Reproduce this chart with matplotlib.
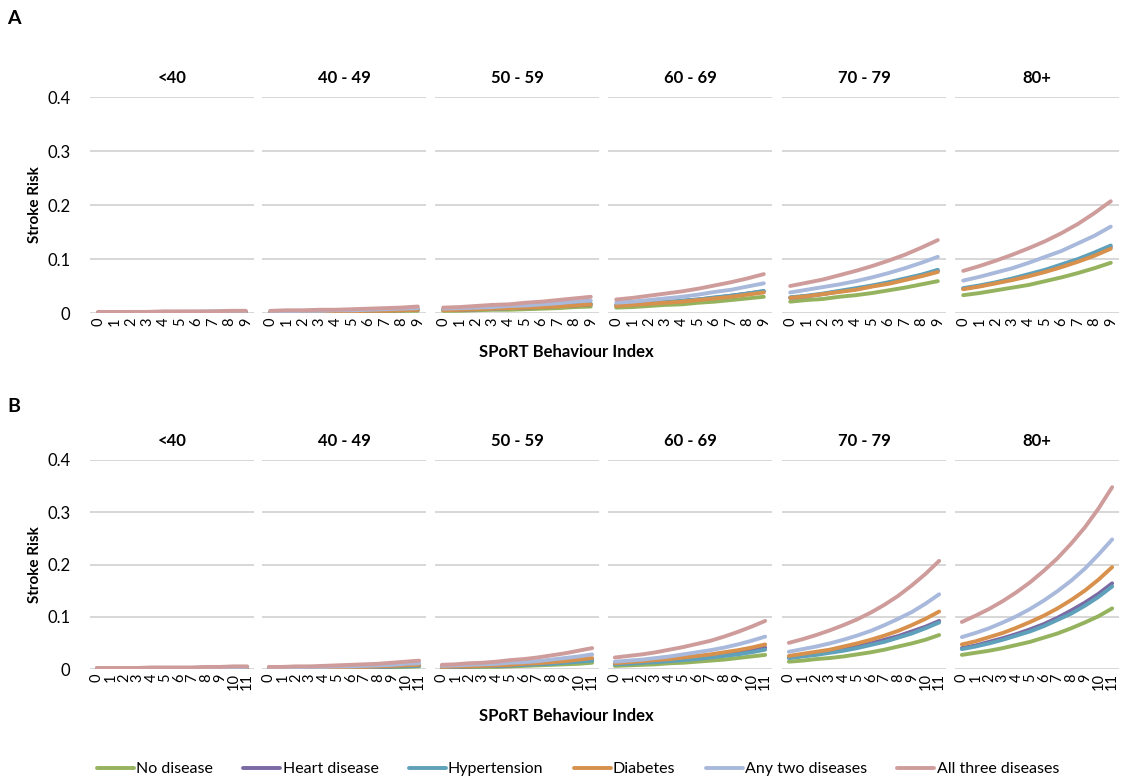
import numpy as np
import matplotlib
matplotlib.use("Agg")
import matplotlib.pyplot as plt
from matplotlib.ticker import FuncFormatter

plt.rcParams["font.family"] = ["Lato", "DejaVu Sans"]

# =========================================================
# DATA
# =========================================================

age_groups = ["<40", "40 - 49", "50 - 59", "60 - 69", "70 - 79", "80+"]
series_names = ["No disease", "Heart disease", "Hypertension", "Diabetes",
                "Any two diseases", "All three diseases"]
series_colors = ["#95B35E", "#7B69A3", "#5FA0BA", "#D8914C", "#A8B9DC", "#CE9C9B"]

index_a = list(range(0, 10))
index_b = list(range(0, 12))

# ---- Panel A : one list per age group, series in legend order ----
risk_a = {
    "<40": [
        [0.001, 0.001, 0.001, 0.001, 0.001, 0.001, 0.001, 0.001, 0.001, 0.002],
        [0.001, 0.001, 0.001, 0.001, 0.001, 0.002, 0.002, 0.002, 0.002, 0.002],
        [0.001, 0.001, 0.001, 0.001, 0.001, 0.002, 0.002, 0.002, 0.002, 0.002],
        [0.001, 0.001, 0.001, 0.001, 0.001, 0.001, 0.002, 0.002, 0.002, 0.002],
        [0.001, 0.001, 0.002, 0.002, 0.002, 0.002, 0.002, 0.003, 0.003, 0.003],
        [0.002, 0.002, 0.002, 0.002, 0.003, 0.003, 0.003, 0.003, 0.004, 0.004],
    ],
    "40 - 49": [
        [0.001, 0.002, 0.002, 0.002, 0.002, 0.003, 0.003, 0.003, 0.004, 0.004],
        [0.002, 0.002, 0.002, 0.003, 0.003, 0.004, 0.004, 0.005, 0.005, 0.006],
        [0.002, 0.002, 0.003, 0.003, 0.003, 0.004, 0.004, 0.005, 0.006, 0.007],
        [0.002, 0.002, 0.002, 0.003, 0.003, 0.003, 0.004, 0.004, 0.005, 0.006],
        [0.003, 0.003, 0.004, 0.004, 0.005, 0.005, 0.006, 0.007, 0.008, 0.009],
        [0.004, 0.005, 0.005, 0.006, 0.006, 0.007, 0.008, 0.009, 0.010, 0.012],
    ],
    "50 - 59": [
        [0.004, 0.004, 0.005, 0.006, 0.006, 0.007, 0.008, 0.009, 0.011, 0.012],
        [0.006, 0.006, 0.007, 0.008, 0.009, 0.010, 0.011, 0.013, 0.014, 0.016],
        [0.006, 0.007, 0.007, 0.008, 0.009, 0.011, 0.012, 0.013, 0.015, 0.017],
        [0.005, 0.006, 0.007, 0.008, 0.009, 0.010, 0.011, 0.012, 0.014, 0.016],
        [0.008, 0.009, 0.010, 0.011, 0.013, 0.014, 0.016, 0.018, 0.021, 0.023],
        [0.010, 0.011, 0.013, 0.015, 0.016, 0.019, 0.021, 0.024, 0.027, 0.030],
    ],
    "60 - 69": [
        [0.010, 0.011, 0.013, 0.015, 0.016, 0.019, 0.021, 0.024, 0.027, 0.030],
        [0.014, 0.016, 0.018, 0.020, 0.022, 0.025, 0.028, 0.032, 0.036, 0.040],
        [0.014, 0.016, 0.018, 0.020, 0.023, 0.025, 0.029, 0.032, 0.036, 0.041],
        [0.013, 0.015, 0.017, 0.019, 0.021, 0.024, 0.027, 0.030, 0.034, 0.038],
        [0.019, 0.021, 0.024, 0.027, 0.030, 0.034, 0.039, 0.043, 0.049, 0.055],
        [0.025, 0.028, 0.032, 0.036, 0.040, 0.045, 0.051, 0.057, 0.064, 0.072],
    ],
    "70 - 79": [
        [0.021, 0.024, 0.026, 0.030, 0.033, 0.037, 0.042, 0.047, 0.053, 0.059],
        [0.028, 0.031, 0.035, 0.040, 0.044, 0.050, 0.056, 0.062, 0.070, 0.078],
        [0.029, 0.032, 0.036, 0.041, 0.046, 0.051, 0.057, 0.064, 0.071, 0.080],
        [0.028, 0.031, 0.035, 0.039, 0.043, 0.049, 0.054, 0.061, 0.068, 0.076],
        [0.038, 0.043, 0.048, 0.053, 0.059, 0.066, 0.074, 0.083, 0.093, 0.104],
        [0.050, 0.056, 0.062, 0.070, 0.078, 0.087, 0.097, 0.108, 0.121, 0.135],
    ],
    "80+": [
        [0.033, 0.037, 0.042, 0.047, 0.052, 0.059, 0.066, 0.074, 0.083, 0.093],
        [0.045, 0.050, 0.056, 0.063, 0.070, 0.078, 0.088, 0.098, 0.109, 0.122],
        [0.046, 0.051, 0.057, 0.064, 0.072, 0.080, 0.090, 0.100, 0.112, 0.125],
        [0.044, 0.049, 0.055, 0.061, 0.068, 0.076, 0.085, 0.095, 0.106, 0.119],
        [0.060, 0.067, 0.075, 0.083, 0.093, 0.104, 0.115, 0.129, 0.143, 0.160],
        [0.078, 0.087, 0.097, 0.108, 0.120, 0.133, 0.148, 0.165, 0.185, 0.207],
    ],
}

# ---- Panel B ----
risk_b = {
    "<40": [
        [0.000, 0.000, 0.001, 0.001, 0.001, 0.001, 0.001, 0.001, 0.001, 0.001, 0.001, 0.002],
        [0.001, 0.001, 0.001, 0.001, 0.001, 0.001, 0.002, 0.002, 0.002, 0.002, 0.002, 0.003],
        [0.001, 0.001, 0.001, 0.001, 0.001, 0.001, 0.001, 0.002, 0.002, 0.002, 0.002, 0.002],
        [0.001, 0.001, 0.001, 0.001, 0.001, 0.001, 0.002, 0.002, 0.002, 0.002, 0.002, 0.003],
        [0.001, 0.001, 0.001, 0.002, 0.002, 0.002, 0.002, 0.002, 0.003, 0.003, 0.003, 0.004],
        [0.002, 0.002, 0.002, 0.002, 0.003, 0.003, 0.003, 0.003, 0.004, 0.004, 0.005, 0.005],
    ],
    "40 - 49": [
        [0.001, 0.001, 0.001, 0.001, 0.002, 0.002, 0.002, 0.003, 0.003, 0.003, 0.004, 0.005],
        [0.002, 0.002, 0.002, 0.002, 0.003, 0.003, 0.003, 0.004, 0.004, 0.005, 0.006, 0.007],
        [0.001, 0.002, 0.002, 0.002, 0.002, 0.003, 0.003, 0.003, 0.004, 0.005, 0.005, 0.006],
        [0.002, 0.002, 0.002, 0.003, 0.003, 0.003, 0.004, 0.004, 0.005, 0.006, 0.007, 0.008],
        [0.003, 0.003, 0.003, 0.004, 0.004, 0.005, 0.005, 0.006, 0.007, 0.008, 0.010, 0.011],
        [0.004, 0.004, 0.005, 0.005, 0.006, 0.007, 0.008, 0.009, 0.010, 0.012, 0.014, 0.016],
    ],
    "50 - 59": [
        [0.003, 0.003, 0.003, 0.004, 0.004, 0.005, 0.006, 0.007, 0.008, 0.009, 0.010, 0.012],
        [0.004, 0.004, 0.005, 0.006, 0.006, 0.007, 0.008, 0.010, 0.011, 0.013, 0.015, 0.018],
        [0.004, 0.004, 0.005, 0.005, 0.006, 0.007, 0.008, 0.009, 0.010, 0.012, 0.014, 0.016],
        [0.004, 0.005, 0.005, 0.006, 0.007, 0.008, 0.010, 0.011, 0.013, 0.015, 0.018, 0.021],
        [0.006, 0.007, 0.008, 0.009, 0.010, 0.012, 0.013, 0.015, 0.018, 0.021, 0.024, 0.028],
        [0.008, 0.009, 0.011, 0.012, 0.014, 0.017, 0.019, 0.022, 0.026, 0.030, 0.035, 0.040],
    ],
    "60 - 69": [
        [0.006, 0.007, 0.008, 0.009, 0.011, 0.012, 0.014, 0.016, 0.018, 0.021, 0.024, 0.027],
        [0.010, 0.011, 0.013, 0.015, 0.017, 0.019, 0.022, 0.025, 0.028, 0.032, 0.036, 0.041],
        [0.009, 0.010, 0.012, 0.013, 0.015, 0.017, 0.019, 0.022, 0.025, 0.028, 0.032, 0.037],
        [0.011, 0.013, 0.015, 0.017, 0.019, 0.022, 0.025, 0.028, 0.032, 0.036, 0.041, 0.047],
        [0.014, 0.016, 0.018, 0.021, 0.024, 0.028, 0.032, 0.036, 0.041, 0.047, 0.054, 0.062],
        [0.022, 0.025, 0.028, 0.032, 0.037, 0.042, 0.048, 0.054, 0.062, 0.071, 0.081, 0.092],
    ],
    "70 - 79": [
        [0.014, 0.016, 0.019, 0.021, 0.024, 0.028, 0.032, 0.037, 0.043, 0.049, 0.056, 0.065],
        [0.022, 0.025, 0.029, 0.033, 0.037, 0.043, 0.049, 0.056, 0.063, 0.072, 0.081, 0.092],
        [0.021, 0.024, 0.027, 0.031, 0.035, 0.040, 0.046, 0.052, 0.060, 0.068, 0.078, 0.089],
        [0.025, 0.029, 0.033, 0.037, 0.043, 0.049, 0.056, 0.064, 0.073, 0.084, 0.096, 0.110],
        [0.033, 0.038, 0.043, 0.049, 0.056, 0.064, 0.073, 0.084, 0.096, 0.109, 0.125, 0.143],
        [0.050, 0.057, 0.065, 0.074, 0.084, 0.095, 0.108, 0.123, 0.140, 0.160, 0.182, 0.207],
    ],
    "80+": [
        [0.027, 0.031, 0.035, 0.040, 0.046, 0.052, 0.060, 0.068, 0.078, 0.089, 0.101, 0.116],
        [0.040, 0.045, 0.052, 0.059, 0.067, 0.076, 0.086, 0.098, 0.112, 0.127, 0.144, 0.164],
        [0.038, 0.043, 0.049, 0.056, 0.064, 0.072, 0.082, 0.094, 0.106, 0.121, 0.138, 0.158],
        [0.047, 0.053, 0.061, 0.069, 0.079, 0.090, 0.102, 0.116, 0.132, 0.150, 0.171, 0.195],
        [0.061, 0.069, 0.078, 0.089, 0.101, 0.115, 0.131, 0.149, 0.169, 0.192, 0.219, 0.248],
        [0.090, 0.102, 0.115, 0.130, 0.147, 0.166, 0.188, 0.212, 0.240, 0.271, 0.307, 0.348],
    ],
}

y_ticks = [0, 0.1, 0.2, 0.3, 0.4]


# =========================================================
# FIGURE
# =========================================================

W, H = 1123, 780
fig = plt.figure(figsize=(W / 100, H / 100), dpi=100)

panel_left = [90, 262, 435, 608, 782, 955]
panel_w = 164
grid_col = "#D4D4D4"


def fmt_y(v, pos):
    return "0" if v == 0 else f"{v:.1f}"


def draw_row(risk, index, y_zero, y_top):
    axes = []
    for i, age in enumerate(age_groups):
        ax = fig.add_axes([panel_left[i] / W, 1 - y_zero / H,
                           panel_w / W, (y_zero - y_top) / H])
        for name, col, vals in zip(series_names, series_colors, risk[age]):
            ax.plot(index, vals, color=col, lw=2.8, solid_capstyle="round", label=name)
        ax.set_xlim(-0.5, len(index) - 0.5)
        ax.set_ylim(0, 0.4)
        ax.set_yticks(y_ticks)
        ax.yaxis.set_major_formatter(FuncFormatter(fmt_y))
        ax.set_xticks(index)
        ax.set_xticklabels([str(v) for v in index], rotation=90, fontsize=10.5)
        ax.grid(axis="y", color=grid_col, lw=1.3)
        ax.set_axisbelow(True)
        for s in ax.spines.values():
            s.set_visible(False)
        ax.tick_params(length=0, pad=3)
        ax.tick_params(axis="y", labelsize=12, pad=14)
        if i > 0:
            ax.tick_params(axis="y", labelleft=False)
        ax.set_title(age, fontsize=12, fontweight="bold", pad=10)
        axes.append(ax)
    return axes


axes_a = draw_row(risk_a, index_a, 313, 97)
axes_b = draw_row(risk_b, index_b, 669, 460)

# ---- labels ----
fig.text(14 / W, 1 - 18 / H, "A", fontsize=14, fontweight="bold", ha="center", va="center")
fig.text(14 / W, 1 - 407 / H, "B", fontsize=14, fontweight="bold", ha="center", va="center")

fig.text(35 / W, 1 - 205 / H, "Stroke Risk", rotation=90, fontsize=11,
         fontweight="bold", ha="center", va="center")
fig.text(35 / W, 1 - 565 / H, "Stroke Risk", rotation=90, fontsize=11,
         fontweight="bold", ha="center", va="center")

fig.text(566 / W, 1 - 352 / H, "SPoRT Behaviour Index", fontsize=12,
         fontweight="bold", ha="center", va="center")
fig.text(566 / W, 1 - 716 / H, "SPoRT Behaviour Index", fontsize=12,
         fontweight="bold", ha="center", va="center")

handles, labels = axes_b[0].get_legend_handles_labels()
fig.legend(handles, labels, loc="center", bbox_to_anchor=(578 / W, 1 - 769 / H),
           ncol=6, frameon=False, fontsize=11.5, handlelength=2.3,
           handletextpad=0.15, columnspacing=1.9)

fig.savefig("out.png", dpi=100)
